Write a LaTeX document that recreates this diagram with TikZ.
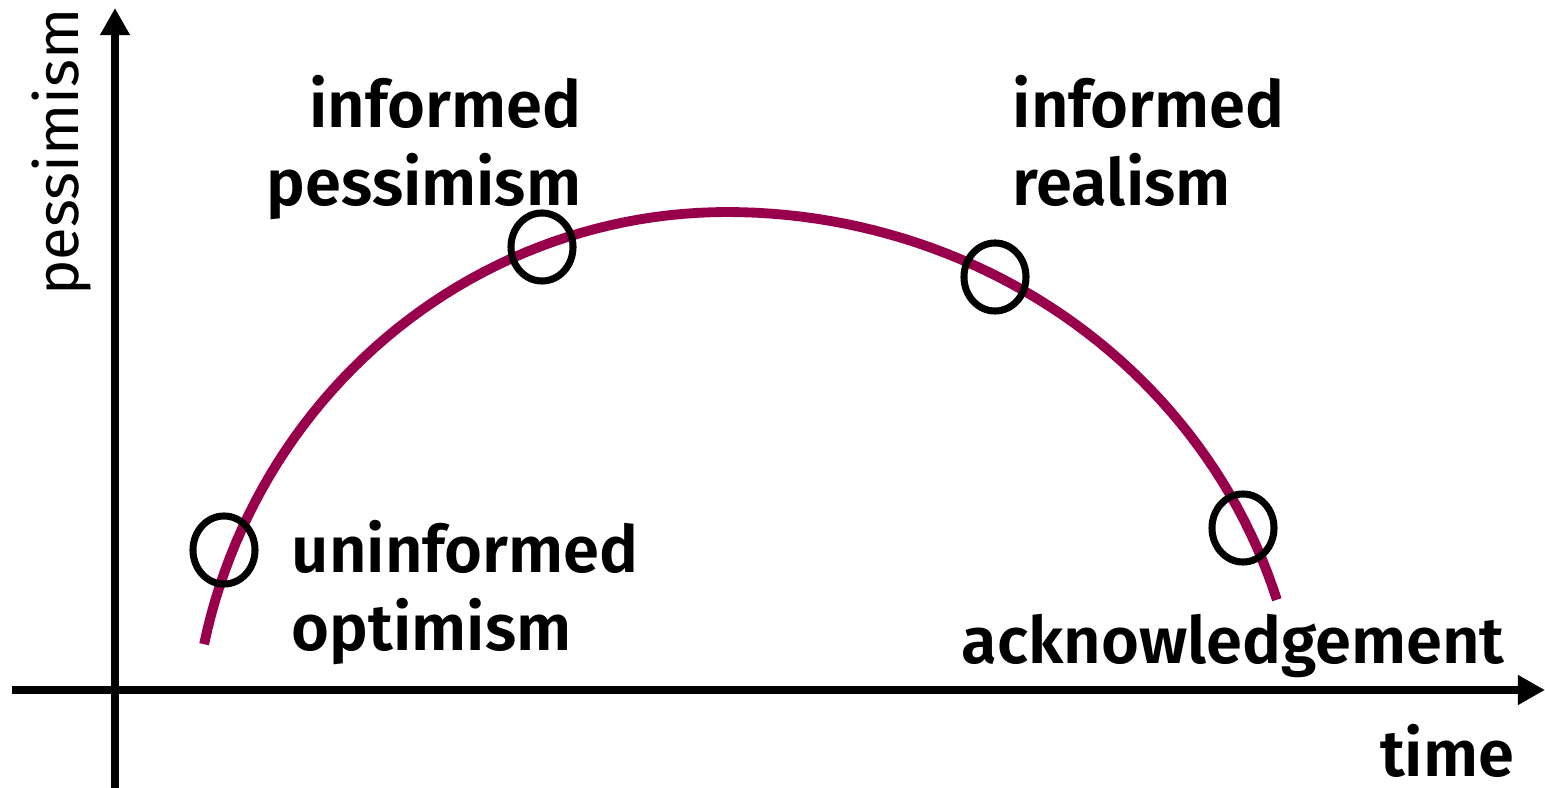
\documentclass[tikz,border=0pt]{standalone}
\usepackage{fontspec}
\setmainfont{Fira Sans}
\newfontfamily\phasefont{Fira Sans SemiBold}
\usetikzlibrary{arrows.meta,shapes.geometric}
\definecolor{curvecol}{RGB}{153,0,76}

\begin{document}
\begin{tikzpicture}[x=0.01cm,y=-0.01cm]
  \tikzstyle{axis}=[black, line width=2pt, -{Triangle[length=7.7pt,width=8pt]}]
  \tikzstyle{stage}=[draw, ellipse, line width=2pt, inner sep=0pt, minimum width=0.62cm, minimum height=0.68cm]
  \tikzstyle{phase}=[inner sep=0pt, font=\fontsize{18.5}{22}\phasefont]
  \useasboundingbox (0,0) rectangle (1545,788);
  % axes
  \coordinate (xl) at (12,690);
  \coordinate (xr) at (1545,690);
  \coordinate (yb) at (115,788);
  \coordinate (yt) at (115,8);
  \draw[axis] (xl) -- (xr);
  \draw[axis] (yb) -- (yt);
  \node[rotate=90, anchor=base, inner sep=0pt, font=\fontsize{17}{20}\selectfont] (ylab) at (78,152) {pessimism};
  \node[phase, anchor=base east] (xlab) at (1515,776) {time};
  % the curve
  \draw[curvecol, line width=2.8pt]
    plot[domain=167.8:90, samples=50] ({727+535*cos(\x)},{760-548*sin(\x)})
    -- plot[domain=90:17, samples=50] ({727+575*cos(\x)},{760-548*sin(\x)});
  % stages
  \node[stage] (s1) at (224,550) {};
  \node[stage] (s2) at (542,247) {};
  \node[stage] (s3) at (995,277) {};
  \node[stage] (s4) at (1243,528) {};
  \node[phase, anchor=north west, align=left] (t1) at (291,520) {uninformed\\optimism};
  \node[phase, anchor=north east, align=right] (t2) at (582,75) {informed\\pessimism};
  \node[phase, anchor=north west, align=left] (t3) at (1012,75) {informed\\realism};
  \node[phase, anchor=base west] (t4) at (961,663) {acknowledgement};
\end{tikzpicture}
\end{document}
